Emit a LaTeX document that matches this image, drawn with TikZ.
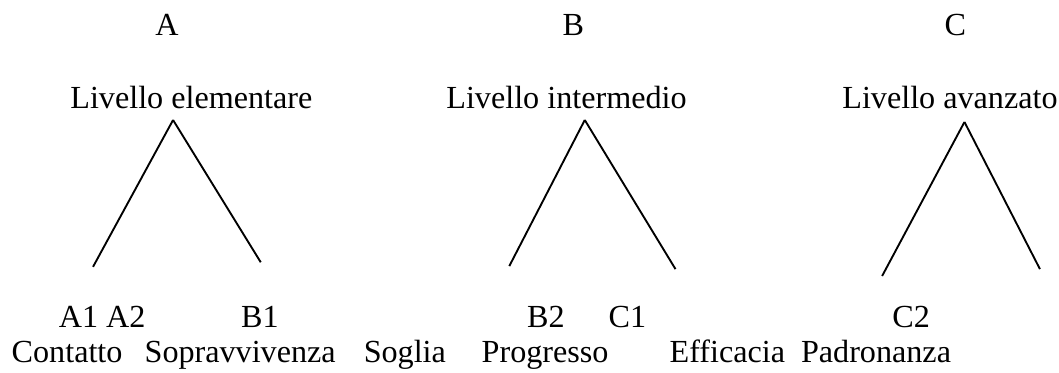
\documentclass[tikz,border=0pt]{standalone}
\usepackage{fontspec}
\setmainfont{Liberation Serif}
\usetikzlibrary{positioning}

\begin{document}
\begin{tikzpicture}[font=\fontsize{12}{14}\selectfont,
  t/.style={anchor=base, inner sep=0pt},
  edge/.style={draw, line width=0.7pt},
]
\useasboundingbox (0,0) rectangle (13.89,-4.88);
%letters
\node[t] (let-a) at (2.19,-0.46) {A};
\node[t] (let-b) at (7.52,-0.46) {B};
\node[t] (let-c) at (12.53,-0.46) {C};
%levels
\node[t] (lev-a) at (2.51,-1.42) {Livello elementare};
\node[t] (lev-b) at (7.43,-1.42) {Livello intermedio};
\node[t] (lev-c) at (12.46,-1.42) {Livello avanzato};
%branches
\coordinate (a-top) at (2.27,-1.574);
\coordinate (a-l)   at (1.22,-3.50);
\coordinate (a-r)   at (3.42,-3.44);
\coordinate (b-top) at (7.67,-1.574);
\coordinate (b-l)   at (6.68,-3.49);
\coordinate (b-r)   at (8.86,-3.53);
\coordinate (c-top) at (12.65,-1.60);
\coordinate (c-l)   at (11.57,-3.62);
\coordinate (c-r)   at (13.64,-3.53);
%codes
\node[t] (a1a2) at (1.34,-4.30) {A1 A2};
\node[t] (b1)   at (3.41,-4.30) {B1};
\node[t] (b2)   at (7.16,-4.30) {B2};
\node[t] (c1)   at (8.23,-4.30) {C1};
\node[t] (c2)   at (11.95,-4.30) {C2};
%names
\node[t] (contatto) at (0.88,-4.76) {Contatto};
\node[t] (soprav)   at (3.15,-4.76) {Sopravvivenza};
\node[t] (soglia)   at (5.31,-4.76) {Soglia};
\node[t] (progr)    at (7.15,-4.76) {Progresso};
\node[t] (effic)    at (9.54,-4.76) {Efficacia};
\node[t] (padron)   at (11.49,-4.76) {Padronanza};

\foreach \fr / \tonode in {a-top/a-l, a-top/a-r, b-top/b-l, b-top/b-r,
  c-top/c-l, c-top/c-r}
\draw[edge] (\fr) -- (\tonode);
\end{tikzpicture}
\end{document}
